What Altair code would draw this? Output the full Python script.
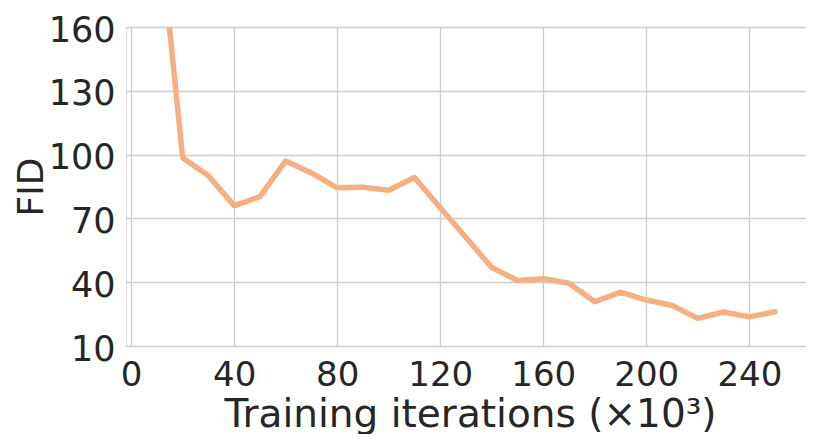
import altair as alt
import pandas as pd

iterations = [10, 20, 30, 40, 50, 60, 70, 80, 90, 100, 110, 120, 130, 140, 150,
              160, 170, 180, 190, 200, 210, 220, 230, 240, 250]
fid = [218, 98.5, 90, 76, 80.2, 97, 91.4, 84.4, 84.7, 83.2, 89.2, 75, 61, 46.9, 40.8,
       41.6, 39.5, 30.8, 35.3, 31.6, 29.1, 23, 26, 23.7, 26.1]
x_ticks = [0, 40, 80, 120, 160, 200, 240]
y_ticks = [10, 40, 70, 100, 130, 160]

df = pd.DataFrame({"iter": iterations, "fid": fid})

font = "DejaVu Sans"
text_color = "#262626"
grid_color = "#cccccc"

chart = alt.Chart(df).mark_line(
    color="#F5AF80", strokeWidth=5.5, clip=True, strokeJoin="round", strokeCap="round"
).encode(
    x=alt.X("iter:Q",
            scale=alt.Scale(domain=[-2, 262], nice=False, zero=False),
            axis=alt.Axis(values=x_ticks, title="Training iterations (×10³)",
                          grid=True, gridColor=grid_color, gridWidth=1.3,
                          domain=False, ticks=False,
                          labelFont=font, labelFontSize=34, labelColor=text_color,
                          labelPadding=12, labelFlush=False,
                          titleFont=font, titleFontSize=39, titleFontWeight="normal",
                          titleColor=text_color, titleBaseline="alphabetic",
                          titleY=80, titleX=344)),
    y=alt.Y("fid:Q",
            scale=alt.Scale(domain=[10, 160], nice=False, zero=False),
            axis=alt.Axis(values=y_ticks, title="FID",
                          grid=True, gridColor=grid_color, gridWidth=1.3,
                          domain=False, ticks=False,
                          labelFont=font, labelFontSize=35, labelColor=text_color,
                          labelPadding=11, labelFlush=False,
                          labelBaseline="alphabetic", labelOffset=14,
                          titleFont=font, titleFontSize=36, titleFontWeight="normal",
                          titleColor=text_color, titleBaseline="alphabetic",
                          titleAngle=270, titleAlign="center",
                          titleX=-84, titleY=159.5)),
).properties(
    width=680,
    height=319,
    autosize=alt.AutoSizeParams(type="none"),
    padding={"left": 118, "top": 19, "right": 0, "bottom": 88},
).configure_view(
    stroke=grid_color, strokeWidth=1.5
).configure(background="white")

chart.save("out.html", embed_options={"renderer": "svg", "actions": False})
